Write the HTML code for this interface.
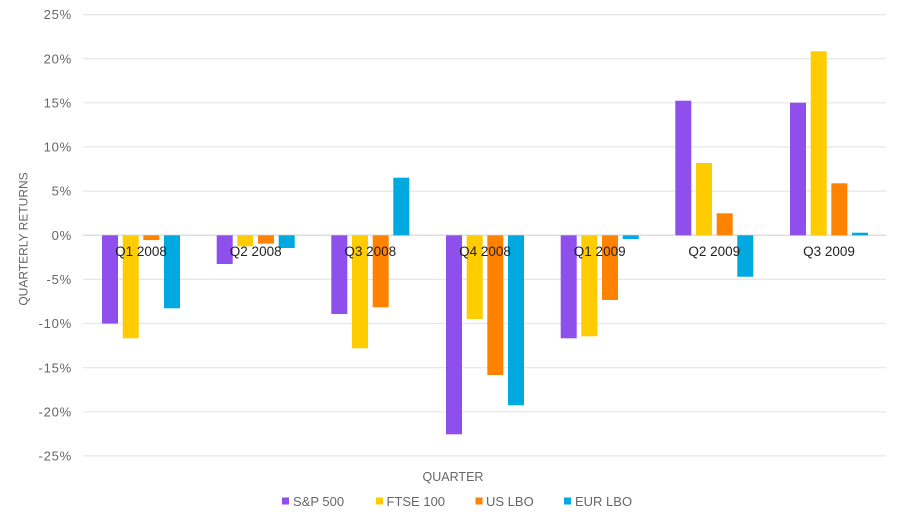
<!DOCTYPE html>
<html>
<head>
<meta charset="utf-8">
<style>
  html,body{margin:0;padding:0;background:#fff;}
  svg{display:block;}
  text{font-family:"Liberation Sans",Arial,sans-serif;}
</style>
</head>
<body>
<svg width="900" height="522" viewBox="0 0 900 522" xmlns="http://www.w3.org/2000/svg">
  <!-- gridlines -->
  <g stroke="#e6e6e6" stroke-width="1.2">
    <line x1="83" x2="886" y1="14.6" y2="14.6"/>
    <line x1="83" x2="886" y1="58.7" y2="58.7"/>
    <line x1="83" x2="886" y1="102.8" y2="102.8"/>
    <line x1="83" x2="886" y1="146.9" y2="146.9"/>
    <line x1="83" x2="886" y1="191.1" y2="191.1"/>
    <line x1="83" x2="886" y1="279.4" y2="279.4"/>
    <line x1="83" x2="886" y1="323.5" y2="323.5"/>
    <line x1="83" x2="886" y1="367.7" y2="367.7"/>
    <line x1="83" x2="886" y1="411.8" y2="411.8"/>
    <line x1="83" x2="886" y1="455.9" y2="455.9"/>
  </g>
  <line x1="83" x2="886" y1="235.3" y2="235.3" stroke="#dedede" stroke-width="1.5"/>

  <!-- y tick labels -->
  <g fill="#666" font-size="13" text-anchor="end" letter-spacing="0.8">
    <text x="72" y="19.2">25%</text>
    <text x="72" y="63.3">20%</text>
    <text x="72" y="107.4">15%</text>
    <text x="72" y="151.5">10%</text>
    <text x="72" y="195.7">5%</text>
    <text x="72" y="239.8">0%</text>
    <text x="72" y="284">-5%</text>
    <text x="72" y="328.1">-10%</text>
    <text x="72" y="372.3">-15%</text>
    <text x="72" y="416.4">-20%</text>
    <text x="72" y="460.5">-25%</text>
  </g>

  <!-- bars: y = 235.3 - v*8.83 -->
  <!-- Q1 2008 -->
  <rect x="102" y="235.3" width="16" height="88.3" fill="#8F4FEC"/>
  <rect x="122.7" y="235.3" width="16" height="103" fill="#FFCC00"/>
  <rect x="143.3" y="235.3" width="16" height="4.8" fill="#FF8200"/>
  <rect x="164" y="235.3" width="16" height="73" fill="#00A9E0"/>
  <!-- Q2 2008 -->
  <rect x="216.7" y="235.3" width="16" height="28.7" fill="#8F4FEC"/>
  <rect x="237.3" y="235.3" width="16" height="11" fill="#FFCC00"/>
  <rect x="258" y="235.3" width="16" height="8.4" fill="#FF8200"/>
  <rect x="278.7" y="235.3" width="16" height="12.7" fill="#00A9E0"/>
  <!-- Q3 2008 -->
  <rect x="331.3" y="235.3" width="16" height="78.7" fill="#8F4FEC"/>
  <rect x="352" y="235.3" width="16" height="113" fill="#FFCC00"/>
  <rect x="372.7" y="235.3" width="16" height="72" fill="#FF8200"/>
  <rect x="393.3" y="177.7" width="16" height="57.6" fill="#00A9E0"/>
  <!-- Q4 2008 -->
  <rect x="446" y="235.3" width="16" height="199" fill="#8F4FEC"/>
  <rect x="466.7" y="235.3" width="16" height="83.7" fill="#FFCC00"/>
  <rect x="487.3" y="235.3" width="16" height="139.7" fill="#FF8200"/>
  <rect x="508" y="235.3" width="16" height="170" fill="#00A9E0"/>
  <!-- Q1 2009 -->
  <rect x="560.7" y="235.3" width="16" height="103" fill="#8F4FEC"/>
  <rect x="581.3" y="235.3" width="16" height="101" fill="#FFCC00"/>
  <rect x="602" y="235.3" width="16" height="64.7" fill="#FF8200"/>
  <rect x="622.7" y="235.3" width="16" height="3.7" fill="#00A9E0"/>
  <!-- Q2 2009 -->
  <rect x="675.3" y="100.7" width="16" height="134.6" fill="#8F4FEC"/>
  <rect x="696" y="163" width="16" height="72.3" fill="#FFCC00"/>
  <rect x="716.7" y="213.3" width="16" height="22" fill="#FF8200"/>
  <rect x="737.3" y="235.3" width="16" height="41.4" fill="#00A9E0"/>
  <!-- Q3 2009 -->
  <rect x="790" y="102.7" width="16" height="132.6" fill="#8F4FEC"/>
  <rect x="810.7" y="51.3" width="16" height="184" fill="#FFCC00"/>
  <rect x="831.3" y="183.3" width="16" height="52" fill="#FF8200"/>
  <rect x="852" y="232.7" width="16" height="2.6" fill="#00A9E0"/>

  <!-- category labels -->
  <g fill="#222" font-size="13.5" text-anchor="middle">
    <text x="141" y="256">Q1 2008</text>
    <text x="255.7" y="256">Q2 2008</text>
    <text x="370.3" y="256">Q3 2008</text>
    <text x="485" y="256">Q4 2008</text>
    <text x="599.7" y="256">Q1 2009</text>
    <text x="714.3" y="256">Q2 2009</text>
    <text x="829" y="256">Q3 2009</text>
  </g>

  <!-- axis titles -->
  <text x="0" y="0" fill="#666" font-size="12" text-anchor="middle" transform="translate(27.5,239) rotate(-90)">QUARTERLY RETURNS</text>
  <text x="453" y="481" fill="#666" font-size="12.5" text-anchor="middle">QUARTER</text>

  <!-- legend -->
  <g font-size="13" fill="#666">
    <rect x="282" y="497.5" width="7" height="7" fill="#8F4FEC"/>
    <text x="293" y="506">S&amp;P 500</text>
    <rect x="376" y="497.5" width="7" height="7" fill="#FFCC00"/>
    <text x="386.5" y="506">FTSE 100</text>
    <rect x="475.5" y="497.5" width="7" height="7" fill="#FF8200"/>
    <text x="486" y="506">US LBO</text>
    <rect x="564" y="497.5" width="7" height="7" fill="#00A9E0"/>
    <text x="575" y="506">EUR LBO</text>
  </g>
</svg>
</body>
</html>
